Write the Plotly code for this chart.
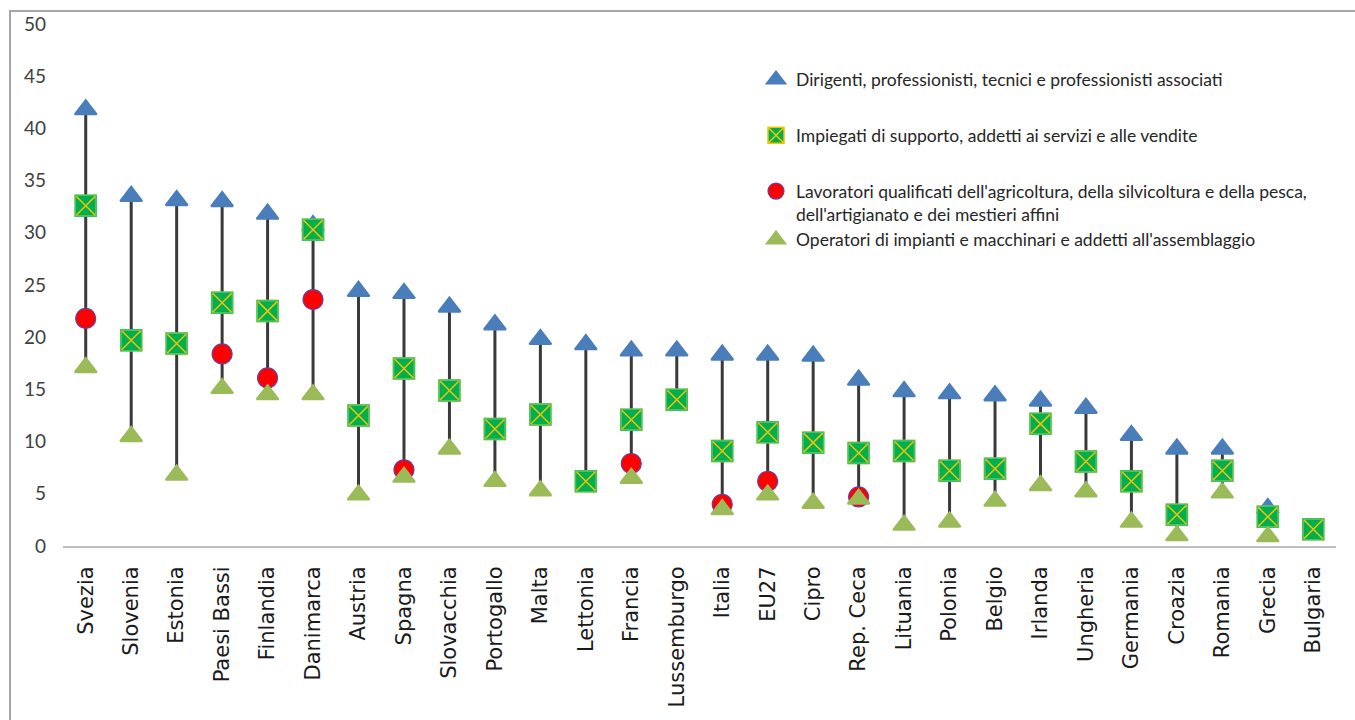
import plotly.graph_objects as go

# Countries, ordered as on the category axis
countries = [
    "Svezia", "Slovenia", "Estonia", "Paesi Bassi", "Finlandia", "Danimarca",
    "Austria", "Spagna", "Slovacchia", "Portogallo", "Malta", "Lettonia",
    "Francia", "Lussemburgo", "Italia", "EU27", "Cipro", "Rep. Ceca",
    "Lituania", "Polonia", "Belgio", "Irlanda", "Ungheria", "Germania",
    "Croazia", "Romania", "Grecia", "Bulgaria",
]

# Series values (None = not reported)
dirigenti = [41.8, 33.5, 33.1, 33.0, 31.8, 30.7, 24.4, 24.2, 22.9, 21.2, 19.8, 19.3,
             18.7, 18.7, 18.3, 18.3, 18.2, 15.9, 14.8, 14.6, 14.4, 13.9, 13.2, 10.6,
             9.3, 9.3, 3.6, None]
impiegati = [32.6, 19.7, 19.4, 23.3, 22.5, 30.3, 12.5, 17.0, 14.9, 11.2, 12.6, 6.2,
             12.1, 14.0, 9.1, 10.9, 9.9, 8.9, 9.1, 7.2, 7.4, 11.7, 8.1, 6.2,
             3.0, 7.2, 2.8, 1.6]
lavoratori = [21.8, None, None, 18.4, 16.1, 23.6, None, 7.3, None, None, None, None,
              7.9, None, 4.0, 6.2, None, 4.7, None, None, None, None, None, None,
              None, None, None, None]
operatori = [17.1, 10.5, 6.8, 15.1, 14.5, 14.5, 4.9, 6.6, 9.3, 6.2, 5.3, None,
             6.5, None, 3.5, 4.9, 4.1, 4.5, 2.0, 2.3, 4.3, 5.8, 5.2, 2.3,
             1.0, 5.1, 0.9, None]

series_names = [
    "Dirigenti, professionisti, tecnici e professionisti associati",
    "Impiegati di supporto, addetti ai servizi e alle vendite",
    "Lavoratori qualificati dell'agricoltura, della silvicoltura e della pesca,<br>dell'artigianato e dei mestieri affini",
    "Operatori di impianti e macchinari e addetti all'assemblaggio",
]

y_ticks = [0, 5, 10, 15, 20, 25, 30, 35, 40, 45, 50]

# Vertical high-low sticks spanning each country's reported values
stem_x, stem_y = [], []
for i, c in enumerate(countries):
    vals = [s[i] for s in (dirigenti, impiegati, lavoratori, operatori) if s[i] is not None]
    if len(vals) > 1:
        stem_x += [c, c, None]
        stem_y += [max(vals), min(vals), None]

fig = go.Figure()

fig.add_trace(go.Scatter(
    x=stem_x, y=stem_y, mode="lines",
    line=dict(color="#3a3a3a", width=3),
    showlegend=False, hoverinfo="skip",
))

fig.add_trace(go.Scatter(
    x=countries, y=dirigenti, mode="markers", name=series_names[0], legendgroup="g1",
    marker=dict(symbol="triangle-up", size=19, color="#4a7ebb",
                line=dict(color="#4a7ebb", width=2)),
))
fig.add_trace(go.Scatter(
    x=countries, y=impiegati, mode="markers", name=series_names[1], legendgroup="g2",
    marker=dict(symbol="square-x", size=21, color="#00b050",
                line=dict(color="#f5c200", width=1.5)),
))
# green outline over the square edge
fig.add_trace(go.Scatter(
    x=countries, y=impiegati, mode="markers", showlegend=False, hoverinfo="skip",
    legendgroup="g2",
    marker=dict(symbol="square-open", size=21, color="#3fc36a",
                line=dict(color="#3fc36a", width=1.5)),
))
# the last two legend entries sit close together, so they share a group
fig.add_trace(go.Scatter(
    x=countries, y=lavoratori, mode="markers", name=series_names[2], legendgroup="g3",
    marker=dict(symbol="circle", size=20, color="#ff0000",
                line=dict(color="#6a3d9a", width=1.2)),
))
fig.add_trace(go.Scatter(
    x=countries, y=operatori, mode="markers", name=series_names[3], legendgroup="g3",
    marker=dict(symbol="triangle-up", size=19, color="#9bbb59",
                line=dict(color="#9bbb59", width=2)),
))

# plot area: left 63px, right 1336px, top 20px (50), bottom 546px (0)
L, R, T, B = 63, 19, 20, 174
W, H = 1355, 720
pw, ph = W - L - R, H - T - B


def px_to_paper_x(px):
    return (px - L) / pw


def px_to_paper_y(py):
    return (H - B - py) / ph


fig.add_shape(
    type="rect", xref="paper", yref="paper",
    x0=px_to_paper_x(10), x1=px_to_paper_x(1370),
    y0=px_to_paper_y(740), y1=px_to_paper_y(7),
    line=dict(color="#a6a6a6", width=2), fillcolor="rgba(0,0,0,0)", layer="below",
)

fig.update_layout(
    width=W, height=H, autosize=False,
    margin=dict(l=L, r=R, t=T, b=B, pad=0),
    paper_bgcolor="white", plot_bgcolor="white",
    showlegend=True,
    legend=dict(
        x=px_to_paper_x(756), y=px_to_paper_y(58), xanchor="left", yanchor="top",
        xref="paper", yref="paper",
        font=dict(family="Lato", size=17.5, color="#262626"),
        tracegroupgap=30, itemwidth=30, valign="top",
        bgcolor="rgba(0,0,0,0)", traceorder="grouped",
    ),
    xaxis=dict(
        type="category", categoryorder="array", categoryarray=countries,
        range=[-0.5, len(countries) - 0.5],
        tickangle=-90, tickfont=dict(family="DejaVu Sans", size=21, color="#1a1a1a"),
        showline=True, linecolor="#bfbfbf", linewidth=2,
        showgrid=False, zeroline=False, ticks="", ticklabelstandoff=10,
    ),
    yaxis=dict(
        range=[0, 50], tickvals=y_ticks, ticktext=[str(v) for v in y_ticks],
        tickfont=dict(family="Lato", size=19, color="#404040"),
        showgrid=False, zeroline=False, showline=False, ticks="",
        ticklabelstandoff=16,
    ),
)

fig.write_html("out.html")
